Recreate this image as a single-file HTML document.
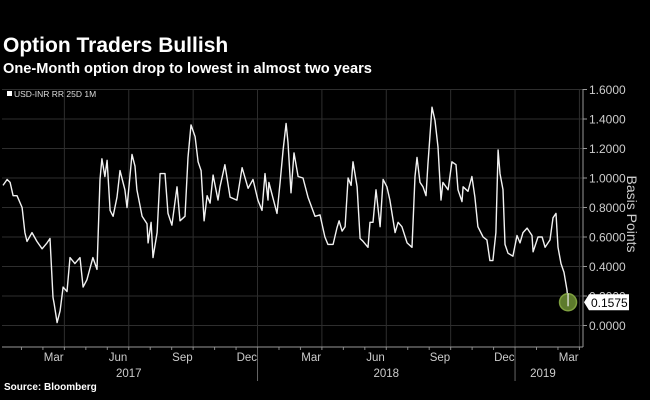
<!DOCTYPE html>
<html><head><meta charset="utf-8"><style>
body{margin:0;background:#000;width:650px;height:400px;overflow:hidden;font-family:"Liberation Sans",sans-serif}
svg{display:block}
</style></head><body>
<svg id="c" width="650" height="400">
<text x="3" y="52" fill="#fff" font-size="21" font-weight="bold">Option Traders Bullish</text>
<text x="3" y="73" fill="#fff" font-size="14.6" font-weight="bold">One-Month option drop to lowest in almost two years</text>
<rect x="7" y="91" width="5" height="5" fill="#fff"/>
<text x="14" y="97" fill="#ddd" font-size="8.5">USD-INR RR 25D 1M</text>
<text x="4" y="390" fill="#fff" font-size="10" font-weight="bold">Source: Bloomberg</text>
</svg>
<script>
const months=[0.14,0.33,0.47,0.61,0.79,1.03,1.16,1.26,1.49,1.72,1.96,2.19,2.33,2.47,2.52,2.66,2.80,2.94,3.12,3.26,3.49,3.73,3.87,4.05,4.33,4.52,4.66,4.75,4.89,4.99,5.13,5.27,5.45,5.59,5.82,5.92,6.15,6.29,6.38,6.62,6.85,6.90,7.04,7.13,7.32,7.46,7.69,7.83,8.01,8.25,8.39,8.62,8.76,8.90,9.09,9.23,9.37,9.51,9.65,9.79,9.93,10.16,10.25,10.48,10.72,11.04,11.28,11.56,11.79,12.02,12.21,12.35,12.49,12.53,12.91,13.05,13.19,13.33,13.42,13.56,13.70,13.89,14.12,14.35,14.68,14.91,15.14,15.28,15.52,15.70,15.80,15.94,16.08,16.22,16.36,16.45,16.64,16.78,16.92,17.15,17.24,17.38,17.52,17.71,17.85,18.03,18.17,18.41,18.55,18.73,18.97,19.20,19.34,19.43,19.57,19.71,19.85,19.94,20.13,20.27,20.41,20.55,20.64,20.88,21.06,21.25,21.34,21.53,21.58,21.81,21.99,22.13,22.27,22.51,22.69,22.83,22.97,23.11,23.21,23.30,23.44,23.53,23.67,23.90,24.09,24.23,24.37,24.56,24.79,24.84,25.07,25.26,25.40,25.63,25.77,25.91,26.00,26.14,26.28,26.42,26.47];
const values=[0.95,0.99,0.97,0.88,0.88,0.80,0.63,0.57,0.63,0.57,0.52,0.56,0.59,0.19,0.15,0.02,0.10,0.26,0.23,0.46,0.42,0.46,0.26,0.31,0.46,0.38,0.99,1.13,1.01,1.12,0.78,0.74,0.87,1.05,0.92,0.80,1.16,1.08,0.92,0.74,0.69,0.56,0.70,0.46,0.63,1.03,1.03,0.76,0.68,0.94,0.71,0.74,1.14,1.36,1.28,1.11,1.05,0.71,0.88,0.83,1.02,0.85,0.94,1.09,0.87,0.85,1.07,0.93,0.99,0.85,0.78,1.03,0.85,0.97,0.76,0.97,1.19,1.37,1.24,0.90,1.17,1.01,1.00,0.87,0.74,0.75,0.60,0.55,0.55,0.66,0.71,0.64,0.67,1.00,0.95,1.11,0.94,0.59,0.57,0.53,0.70,0.70,0.92,0.67,0.99,0.94,0.85,0.63,0.70,0.67,0.56,0.53,1.01,1.14,0.97,0.94,0.88,1.09,1.48,1.39,1.21,0.85,0.97,0.92,1.11,1.09,0.92,0.84,0.94,0.91,1.01,0.87,0.67,0.60,0.58,0.44,0.44,0.63,1.19,1.03,0.92,0.55,0.49,0.47,0.61,0.56,0.63,0.66,0.61,0.50,0.60,0.60,0.53,0.58,0.73,0.76,0.53,0.42,0.36,0.24,0.1575];
const yTicks=[0,0.2,0.4,0.6,0.8,1.0,1.2,1.4,1.6];
const monthLabels=["Mar","Jun","Sep","Dec","Mar","Jun","Sep","Dec","Mar"];
const monthLabelPos=[2.5,5.5,8.5,11.5,14.5,17.5,20.5,23.5,26.5];
const gridMonths=[3,6,9,12,15,18,21,24,27];
const yearLabels=["2017","2018","2019"];
const yearLabelPos=[6,18,25.3];
const yearBreaks=[12,24];
const lastLabel="0.1575";

const X=m=>m*21.46;
const Y=v=>325.5-v*147.5;
const svg=document.getElementById('c');
const NS='http://www.w3.org/2000/svg';
function mk(t,a){const e=document.createElementNS(NS,t);for(const k in a)e.setAttribute(k,a[k]);svg.appendChild(e);return e;}

yTicks.forEach(v=>{
  const g=mk('line',{x1:2,x2:583,y1:Y(v),y2:Y(v),stroke:'#2e2e2e','stroke-width':1});
  
  
  const t=mk('text',{x:589,y:Y(v)+4.5,fill:'#ccc','font-size':12});
  t.textContent=v.toFixed(4);
  
  
  const tk=mk('line',{x1:583,x2:587,y1:Y(v),y2:Y(v),stroke:'#999'});
  
  
});
gridMonths.forEach(m=>{
  if(X(m)>582)return;
  const g=mk('line',{x1:X(m),x2:X(m),y1:89,y2:347,stroke:'#2e2e2e'});
  
  
});
for(let m=1;m<=27;m++){
  if(X(m)>583)break;
  const tk=mk('line',{x1:X(m),x2:X(m),y1:347,y2:350,stroke:'#888'});
  
  
}
yearBreaks.forEach(m=>{
  const l=mk('line',{x1:X(m),x2:X(m),y1:347,y2:381,stroke:'#666'});
  
  
});
const ax=mk('line',{x1:2,x2:583,y1:347,y2:347,stroke:'#999'});


const ay=mk('line',{x1:583,x2:583,y1:89,y2:347,stroke:'#999'});


monthLabels.forEach((s,i)=>{
  const t=mk('text',{x:X(monthLabelPos[i]),y:361,fill:'#ccc','font-size':11.5,'text-anchor':'middle'});
  t.textContent=s;
  
  
});
yearLabels.forEach((s,i)=>{
  const t=mk('text',{x:X(yearLabelPos[i]),y:377,fill:'#ccc','font-size':11.5,'text-anchor':'middle'});
  t.textContent=s;
  
  
});
const yt=mk('text',{x:0,y:0,fill:'#ccc','font-size':14,'text-anchor':'middle',transform:'translate(627,214) rotate(90)'});
yt.textContent='Basis Points';



const d=months.map((m,i)=>(i?'L':'M')+X(m).toFixed(1)+','+Y(values[i]).toFixed(1)).join(' ');
const p=mk('path',{d:d,fill:'none',stroke:'#f2f2f2','stroke-width':1.4,'stroke-linejoin':'round'});



const li=months.length-1, lx=X(months[li]), ly=Y(values[li]);
const c=mk('circle',{cx:lx,cy:ly,r:8.5,fill:'#5d7a2c',stroke:'#7fa040','stroke-width':1.5});


const tail=mk('line',{x1:lx,x2:lx,y1:ly-9,y2:ly+4,stroke:'#eee','stroke-width':1.2});


const b=mk('path',{d:`M584,${ly} L589,${ly-8} L629,${ly-8} L629,${ly+8} L589,${ly+8} Z`,fill:'#fff'});


const bt=mk('text',{x:591,y:ly+4.5,fill:'#000','font-size':12});
bt.textContent=lastLabel;


</script>
</body></html>
